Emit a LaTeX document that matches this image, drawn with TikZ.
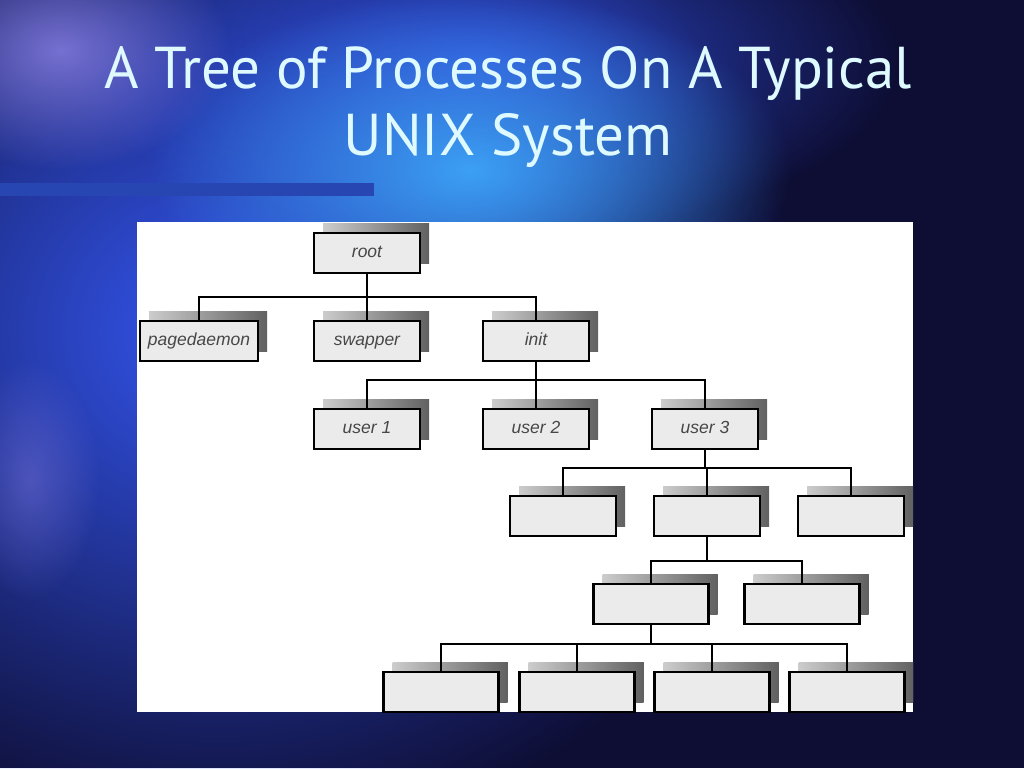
\documentclass[tikz,border=0pt]{standalone}
\usepackage{fontspec}
\setmainfont{Liberation Sans}
\newfontfamily\titlefont{PT Sans}
\usetikzlibrary{positioning,shadows,fadings}

\definecolor{bgdark}{RGB}{14,14,52}
\definecolor{bgblue}{RGB}{52,86,240}
\definecolor{bgcyan}{RGB}{60,160,245}
\definecolor{bgviolet}{RGB}{140,130,230}
\definecolor{barblue}{RGB}{40,70,178}
\definecolor{titlecyan}{RGB}{222,250,255}

\tikzfading[name=blob, inner color=transparent!0, outer color=transparent!100]

\tikzset{
  proc/.style={draw=black, line width=2.8pt, fill=black!8, inner sep=0pt,
    minimum width=106pt, minimum height=40pt, text height=1.75ex, text depth=.2ex,
    font=\fontsize{17.5}{19}\selectfont\itshape, text=black!72,
    drop shadow={shadow xshift=9pt, shadow yshift=10pt, opacity=1,
      left color=black!20, right color=black!62}},
  wide/.style={proc, minimum width=115pt},
  bus/.style={line width=2.8pt, draw=black},
}

\begin{document}
\begin{tikzpicture}[x=1pt,y=-1pt]
  \useasboundingbox (0,0) rectangle (1024,768);
  % background
  \fill[bgdark] (0,0) rectangle (1024,768);
  \fill[bgblue, path fading=blob] (220,330) ellipse (580 and 520);
  \fill[bgblue, path fading=blob, opacity=.8] (480,60) ellipse (420 and 180);
  \fill[bgcyan, path fading=blob] (470,170) ellipse (320 and 180);
  \fill[bgviolet, path fading=blob, opacity=.8] (60,50) ellipse (170 and 120);
  \fill[bgviolet, path fading=blob, opacity=.4] (30,480) ellipse (70 and 120);
  \fill[barblue] (0,183) rectangle (374,196);
  % title
  \node[anchor=base, text=titlecyan, font=\titlefont\fontsize{59}{60}\selectfont]
    (t_1) at (508,88) {A Tree of Processes On A Typical};
  \node[anchor=base, text=titlecyan, font=\titlefont\fontsize{59}{60}\selectfont]
    (t_2) at (508,155) {UNIX System};
  % panel
  \fill[white] (137,222) rectangle (913,712);
  \begin{scope}
    \clip (137,222) rectangle (913,712);
    \node[proc] (p_root) at (367,253) {root};
    \node[proc, minimum width=118pt] (p_pd) at (199,341) {pagedaemon};
    \node[proc] (p_swap) at (367,341) {swapper};
    \node[proc] (p_init) at (536,341) {init};
    \node[proc] (p_u1) at (367,429) {user 1};
    \node[proc] (p_u2) at (536,429) {user 2};
    \node[proc] (p_u3) at (705,429) {user 3};
    \node[proc] (p_a1) at (563,516) {};
    \node[proc] (p_a2) at (707,516) {};
    \node[proc] (p_a3) at (851,516) {};
    \node[wide] (p_b1) at (651,604) {};
    \node[wide] (p_b2) at (802,604) {};
    \node[wide] (p_c1) at (441,692) {};
    \node[wide] (p_c2) at (577,692) {};
    \node[wide] (p_c3) at (712,692) {};
    \node[wide] (p_c4) at (847,692) {};
    % bus junctions
    \coordinate (j_1) at (367,297);
    \coordinate (j_2) at (536,380);
    \coordinate (j_3) at (705,468);
    \coordinate (j_4) at (707,561);
    \coordinate (j_5) at (651,644);
    \draw[bus] (p_root.south) -- (j_1) -| (p_pd.north);
    \draw[bus] (j_1) -- (p_swap.north);
    \draw[bus] (j_1) -| (p_init.north);
    \draw[bus] (p_init.south) -- (j_2) -| (p_u1.north);
    \draw[bus] (j_2) -- (p_u2.north);
    \draw[bus] (j_2) -| (p_u3.north);
    \draw[bus] (p_u3.south) -- (j_3) -| (p_a1.north);
    \draw[bus] (j_3) -| (p_a2.north);
    \draw[bus] (j_3) -| (p_a3.north);
    \draw[bus] (p_a2.south) -- (j_4) -| (p_b1.north);
    \draw[bus] (j_4) -| (p_b2.north);
    \draw[bus] (p_b1.south) -- (j_5) -| (p_c1.north);
    \draw[bus] (j_5) -| (p_c2.north);
    \draw[bus] (j_5) -| (p_c3.north);
    \draw[bus] (j_5) -| (p_c4.north);
  \end{scope}
\end{tikzpicture}
\end{document}
